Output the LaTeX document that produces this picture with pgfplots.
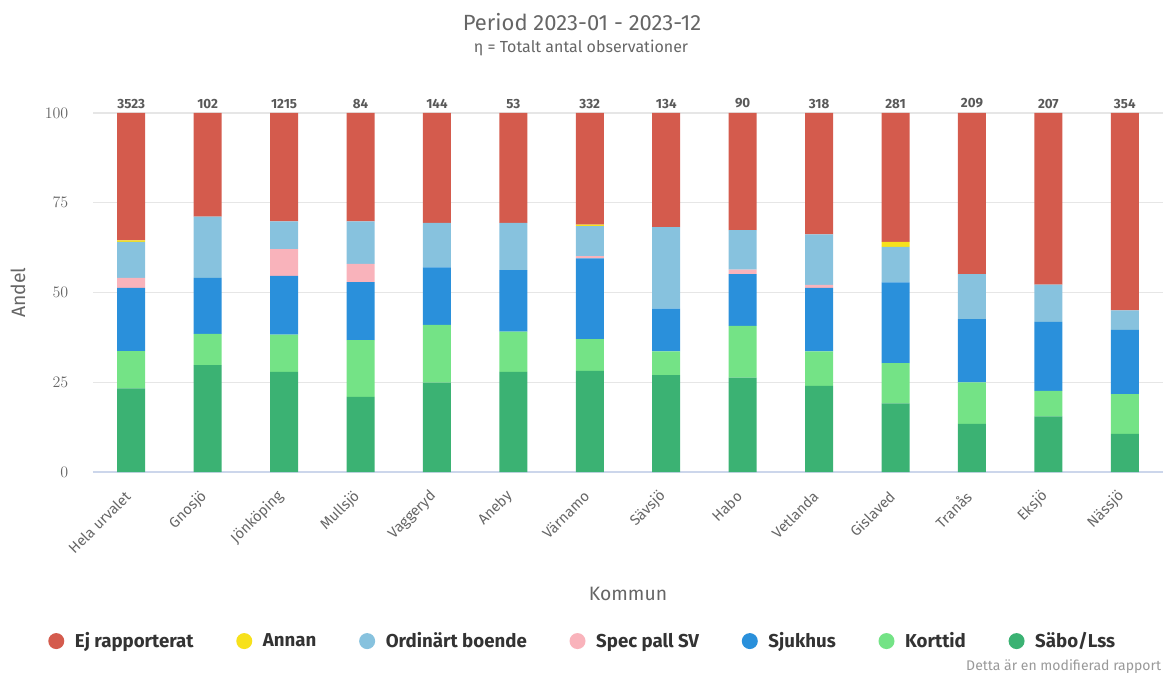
\documentclass[border=0pt]{standalone}
\usepackage{pgfplots}
\pgfplotsset{compat=1.18}
\usepackage{pgfplotstable}
\usepackage{fontspec}
\setmainfont{Fira Sans}
\definecolor{cEj}{HTML}{D45B4D}
\definecolor{cAnnan}{HTML}{F7E11B}
\definecolor{cOrd}{HTML}{87C2DE}
\definecolor{cSpec}{HTML}{F9B3BB}
\definecolor{cSjuk}{HTML}{2A90DB}
\definecolor{cKort}{HTML}{74E386}
\definecolor{cSabo}{HTML}{3BB273}
\definecolor{tgray}{HTML}{666666}
\definecolor{tdark}{HTML}{333333}
\definecolor{gridc}{HTML}{E6E6E6}
\definecolor{axc}{HTML}{CCD6EB}

\pgfplotstableread{
x sabo kort sjuk spec ord annan ej
0 23.3 10.4 17.6 2.8 10.0 0.4 35.5
1 29.8 8.7 15.6 0 17.0 0 28.9
2 27.9 10.4 16.3 7.5 7.7 0 30.2
3 20.9 15.8 16.2 5.1 11.8 0 30.2
4 24.9 16.1 16.0 0 12.4 0 30.6
5 27.9 11.2 17.1 0 13.2 0 30.6
6 28.2 8.8 22.5 0.6 8.4 0.4 31.1
7 27.0 6.6 11.9 0 22.7 0 31.8
8 26.3 14.4 14.4 1.3 11.0 0 32.6
9 24.0 9.6 17.7 0.8 14.1 0 33.8
10 19.1 11.2 22.5 0 9.9 1.4 35.9
11 13.4 11.6 17.6 0 12.5 0 44.9
12 15.5 7.1 19.2 0 10.4 0 47.8
13 10.6 11.1 17.9 0 5.4 0 55.0
}\data

\begin{document}
\begin{tikzpicture}
\useasboundingbox (0pt,0pt) rectangle (872.25pt,506.25pt);
\node[text=tgray, font=\fontsize{16.5}{19}\selectfont] at (436.5pt,489.75pt) {Period 2023-01 - 2023-12};
\node[text=tgray, font=\fontsize{12}{14}\selectfont] at (435.75pt,470.25pt) {η = Totalt antal observationer};
\node[text=gray!80, anchor=south east, font=\fontsize{10.5}{12}\selectfont, inner sep=0pt] at (871pt,1pt) {Detta är en modifierad rapport};

\begin{axis}[
  at={(69.75pt,152.25pt)}, anchor=south west, scale only axis,
  width=802.5pt, height=269.25pt,
  ybar stacked, bar width=21pt,
  xmin=-0.5, xmax=13.5, ymin=0, ymax=100,
  ytick={0,25,50,75,100},
  ymajorgrids, grid style={color=gridc, line width=0.8pt},
  axis x line*=bottom, axis y line*=left,
  y axis line style={draw=none},
  x axis line style={color=axc, line width=0.8pt, -},
  major tick length=0pt,
  xtick={0,...,13},
  xticklabels={Hela urvalet,Gnosjö,Jönköping,Mullsjö,Vaggeryd,Aneby,Värnamo,Sävsjö,Habo,Vetlanda,Gislaved,Tranås,Eksjö,Nässjö},
  xticklabel style={rotate=45, anchor=east, text=tgray, font=\fontsize{11}{13}\selectfont},
  xticklabel shift=14pt,
  yticklabel style={text=tgray, font=\fontsize{12.5}{14}\selectfont},
  yticklabel shift=15pt,
  xlabel={Kommun}, ylabel={Andel},
  xlabel style={at={(axis description cs:0.5,-0.34)}, anchor=center, text=tgray, font=\fontsize{14.5}{17}\selectfont},
  ylabel style={at={(axis description cs:-0.07,0.5)}, anchor=center, text=tgray, font=\fontsize{14.5}{17}\selectfont},
  legend image code/.code={\fill[#1] (0pt,0pt) circle (6pt);},
  reverse legend,
  legend columns=7,
  legend style={draw=none, at={(0.458,-0.471)}, anchor=center, text=tdark,
    font=\bfseries\fontsize{14}{16}\selectfont,
    /tikz/every odd column/.append style={column sep=6pt},
    /tikz/every even column/.append style={column sep=30pt}},
]
\addplot[fill=cSabo, draw=none] table[x=x, y=sabo] {\data};
\addlegendentry{Säbo/Lss}
\addplot[fill=cKort, draw=none] table[x=x, y=kort] {\data};
\addlegendentry{Korttid}
\addplot[fill=cSjuk, draw=none] table[x=x, y=sjuk] {\data};
\addlegendentry{Sjukhus}
\addplot[fill=cSpec, draw=none] table[x=x, y=spec] {\data};
\addlegendentry{Spec pall SV}
\addplot[fill=cOrd, draw=none] table[x=x, y=ord] {\data};
\addlegendentry{Ordinärt boende}
\addplot[fill=cAnnan, draw=none] table[x=x, y=annan] {\data};
\addlegendentry{Annan}
\addplot[fill=cEj, draw=none] table[x=x, y=ej] {\data};
\addlegendentry{Ej rapporterat}
\end{axis}

\begin{axis}[
  at={(69.75pt,152.25pt)}, anchor=south west, scale only axis,
  width=802.5pt, height=269.25pt,
  xmin=-0.5, xmax=13.5, ymin=0, ymax=100,
  axis x line*=top, hide y axis,
  x axis line style={draw=none},
  major tick length=0pt,
  xtick={0,...,13},
  xticklabels={3523,102,1215,84,144,53,332,134,90,318,281,209,207,354},
  xticklabel style={text=black!65, font=\bfseries\fontsize{10}{12}\selectfont},
  xticklabel shift=0pt,
]
\end{axis}
\end{tikzpicture}
\end{document}
